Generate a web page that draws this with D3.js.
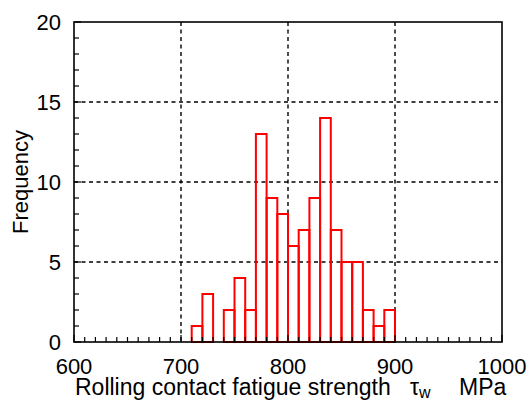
<!DOCTYPE html>
<html>
<head>
<meta charset="utf-8">
<style>
  body { margin: 0; background: #fff; }
  svg { display: block; font-family: "Liberation Sans", Arial, sans-serif; }
</style>
</head>
<body>
<div id="chart"></div>
<script src="https://cdn.jsdelivr.net/npm/d3@7"></script>
<script>
// bin lower edges (MPa) and counts
var binStarts = [710, 720, 730, 740, 750, 760, 770, 780, 790, 800, 810, 820, 830, 840, 850, 860, 870, 880, 890];
var counts    = [1, 3, 0, 2, 4, 2, 13, 9, 8, 6, 7, 9, 14, 7, 5, 5, 2, 1, 2];
var binWidth = 10;
var xTicks = [600, 700, 800, 900, 1000];
var yTicks = [0, 5, 10, 15, 20];

var W = 529, H = 400;
var m = { left: 74, right: 502, top: 22, bottom: 342 };

var svg = d3.select('#chart').append('svg')
  .attr('width', W).attr('height', H);

var x = d3.scaleLinear().domain([600, 1000]).range([m.left, m.right]);
var y = d3.scaleLinear().domain([0, 20]).range([m.bottom, m.top]);

// dashed grid
svg.selectAll('.gx').data([700, 800, 900]).enter().append('line')
  .attr('x1', d => x(d)).attr('x2', d => x(d))
  .attr('y1', m.top).attr('y2', m.bottom)
  .attr('stroke', '#000').attr('stroke-width', 1.4)
  .attr('stroke-dasharray', '4,3.5');
svg.selectAll('.gy').data([5, 10, 15]).enter().append('line')
  .attr('x1', m.left).attr('x2', m.right)
  .attr('y1', d => y(d)).attr('y2', d => y(d))
  .attr('stroke', '#000').attr('stroke-width', 1.4)
  .attr('stroke-dasharray', '4,3.5');

// bars
svg.selectAll('.bar').data(counts).enter().append('rect')
  .attr('x', (d, i) => x(binStarts[i]))
  .attr('width', (d, i) => x(binStarts[i] + binWidth) - x(binStarts[i]))
  .attr('y', d => y(d))
  .attr('height', d => y(0) - y(d))
  .attr('fill', 'none')
  .attr('stroke', '#ff0000')
  .attr('stroke-width', 2);

// minor ticks, pointing inward
svg.selectAll('.tx').data(d3.range(600, 1001, 10)).enter().append('line')
  .attr('x1', d => x(d)).attr('x2', d => x(d))
  .attr('y1', m.bottom).attr('y2', d => m.bottom - (d % 100 === 0 ? 7 : 5))
  .attr('stroke', '#000').attr('stroke-width', 1.2);
svg.selectAll('.ty').data(d3.range(0, 21, 1)).enter().append('line')
  .attr('y1', d => y(d)).attr('y2', d => y(d))
  .attr('x1', m.left).attr('x2', d => m.left + (d % 5 === 0 ? 7 : 5))
  .attr('stroke', '#000').attr('stroke-width', 1.2);

// frame
svg.append('rect')
  .attr('x', m.left).attr('y', m.top)
  .attr('width', m.right - m.left).attr('height', m.bottom - m.top)
  .attr('fill', 'none').attr('stroke', '#000').attr('stroke-width', 1.6);

// tick labels
svg.selectAll('.lx').data(xTicks).enter().append('text')
  .attr('x', d => x(d)).attr('y', 374)
  .attr('text-anchor', 'middle')
  .attr('font-size', 22)
  .text(d => d);
svg.selectAll('.ly').data(yTicks).enter().append('text')
  .attr('x', 61).attr('y', d => y(d) + 8)
  .attr('text-anchor', 'end')
  .attr('font-size', 22)
  .text(d => d);

// axis titles
svg.append('text')
  .attr('transform', 'translate(27.5,' + ((m.top + m.bottom) / 2) + ') rotate(-90)')
  .attr('text-anchor', 'middle')
  .attr('font-size', 22)
  .text('Frequency');

var xt = svg.append('text')
  .attr('x', 75).attr('y', 395)
  .attr('font-size', 23);
xt.append('tspan').text('Rolling contact fatigue strength');
xt.append('tspan').attr('x', 410).text('τ');
xt.append('tspan').attr('font-size', 16).attr('dy', 3).text('w');
xt.append('tspan').attr('x', 459).attr('dy', -3).text('MPa');
</script>
</body>
</html>
